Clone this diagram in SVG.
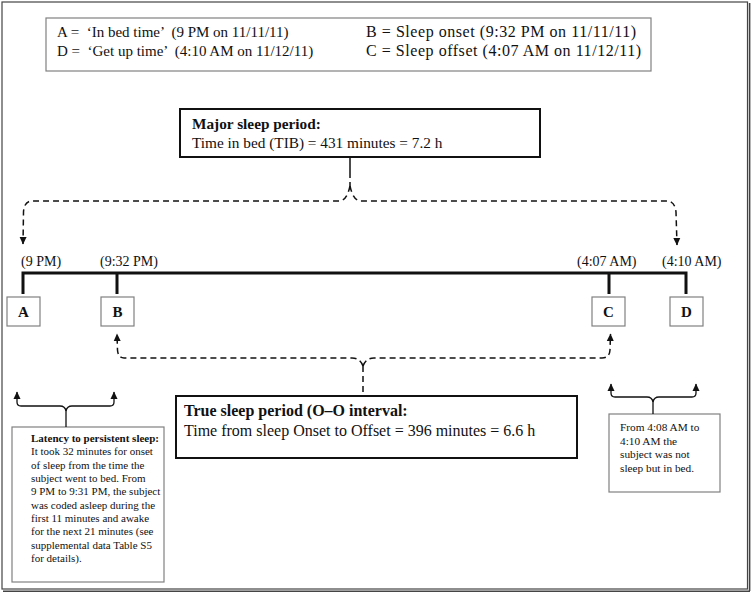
<svg xmlns="http://www.w3.org/2000/svg" width="752" height="593" viewBox="0 0 752 593">
<style>
text{font-family:"Liberation Serif","Times New Roman",serif;fill:#111;}
.lg{font-size:15px;white-space:pre;}
.lg2{font-size:16px;white-space:pre;}
.hd{font-size:15.3px;}
.hb{font-size:15.3px;font-weight:bold;}
.tb{font-size:16px;}
.tbb{font-size:16px;font-weight:bold;}
.tm{font-size:14px;}
.lt{font-size:15px;font-weight:bold;}
.sm{font-size:11px;}
.smb{font-size:11px;font-weight:bold;}
.rb{font-size:11.3px;}
.gbox{fill:#fff;stroke:#808080;stroke-width:1.2;}
.kbox{fill:#fff;stroke:#111;stroke-width:2;}
.tick{stroke:#111;stroke-width:3;fill:none;}
.dash{stroke:#111;stroke-width:1.5;fill:none;stroke-dasharray:6 4;}
.solid{stroke:#111;stroke-width:1.3;fill:none;}
</style>
<defs>
<marker id="ah" markerUnits="userSpaceOnUse" markerWidth="8" markerHeight="8" viewBox="0 0 8 8" refX="7" refY="4" orient="auto">
<path d="M0,0.5 L7.5,4 L0,7.5 Z" fill="#111"/>
</marker>
</defs>
<rect width="752" height="593" fill="#fff"/>
<rect x="2" y="2" width="745.5" height="587" fill="none" stroke="#444" stroke-width="1.2"/>
<path d="M749.6 3 L749.6 591 M3 591.2 L750 591.2" stroke="#444" stroke-width="1.6" fill="none"/>

<g id="legend">
<rect class="gbox" x="46" y="18" width="605" height="53"/>
<text class="lg" x="57" y="37">A =  ‘In bed time’  (9 PM on 11/11/11)</text>
<text class="lg" x="57" y="56">D =  ‘Get up time’  (4:10 AM on 11/12/11)</text>
<text class="lg2" x="366" y="37" textLength="270" lengthAdjust="spacing">B = Sleep onset (9:32 PM on 11/11/11)</text>
<text class="lg2" x="366" y="56" textLength="275" lengthAdjust="spacing">C = Sleep offset (4:07 AM on 11/12/11)</text>
</g>

<g id="major">
<rect class="kbox" x="180" y="109" width="360" height="48" stroke-width="1.8"/>
<text class="hb" x="192" y="129">Major sleep period:</text>
<text class="hd" x="192" y="148">Time in bed (TIB) = 431 minutes = 7.2 h</text>
</g>

<g id="timeline">
<path class="tick" d="M23 294 L23 273 L686 273 L686 294 M117 273 L117 294 M609 273 L609 294"/>
<text class="tm" x="21" y="266">(9 PM)</text>
<text class="tm" x="100" y="266">(9:32 PM)</text>
<text class="tm" x="577" y="266">(4:07 AM)</text>
<text class="tm" x="662" y="266">(4:10 AM)</text>
</g>

<g id="nodeA"><rect class="gbox" x="7" y="297" width="33" height="29"/><text class="lt" x="23.5" y="317" text-anchor="middle">A</text></g>
<g id="nodeB"><rect class="gbox" x="101" y="297" width="33" height="29"/><text class="lt" x="117.5" y="317" text-anchor="middle">B</text></g>
<g id="nodeC"><rect class="gbox" x="592" y="297" width="33" height="29"/><text class="lt" x="608.5" y="317" text-anchor="middle">C</text></g>
<g id="nodeD"><rect class="gbox" x="670" y="297" width="33" height="29"/><text class="lt" x="686.5" y="317" text-anchor="middle">D</text></g>

<g id="truesleep">
<rect class="kbox" x="176" y="396" width="401" height="62"/>
<text class="tbb" x="184" y="416">True sleep period (O–O interval:</text>
<text class="tb" x="184" y="436">Time from sleep Onset to Offset = 396 minutes = 6.6 h</text>
</g>

<g id="latency">
<rect class="gbox" x="12" y="427" width="152" height="155"/>
<text class="smb" x="31" y="442">Latency to persistent sleep:</text>
<text class="sm" x="31" y="455.3">It took 32 minutes for onset</text>
<text class="sm" x="31" y="468.6">of sleep from the time the</text>
<text class="sm" x="31" y="482">subject went to bed. From</text>
<text class="sm" x="31" y="495.3">9 PM to 9:31 PM, the subject</text>
<text class="sm" x="31" y="508.6">was coded asleep during the</text>
<text class="sm" x="31" y="522">first 11 minutes and awake</text>
<text class="sm" x="31" y="535.3">for the next 21 minutes (see</text>
<text class="sm" x="31" y="548.6">supplemental data Table S5</text>
<text class="sm" x="31" y="562">for details).</text>
</g>

<g id="inbed">
<rect class="gbox" x="609" y="414" width="111" height="78"/>
<text class="rb" x="620" y="431">From 4:08 AM to</text>
<text class="rb" x="620" y="444.5">4:10 AM the</text>
<text class="rb" x="620" y="458">subject was not</text>
<text class="rb" x="620" y="471.5">sleep but in bed.</text>
</g>

<g id="connectors">
<path d="M350 157 L350 172" stroke="#111" stroke-width="1.5" fill="none"/>
<path class="dash" d="M350 172 L350 186"/>
<path class="dash" d="M350 186 Q347 200 340 201 L31 201 Q24 202 23.5 212 L23 244" marker-end="url(#ah)"/>
<path class="dash" d="M350 186 Q353 200 360 201 L668 201 Q675 202 676 212 L677 245" marker-end="url(#ah)"/>
<path class="dash" d="M363 392 L363 366"/>
<path class="dash" d="M363 366 Q360 358 352 358 L124 358 Q118 358 117.5 350 L117 334" marker-end="url(#ah)"/>
<path class="dash" d="M363 366 Q366 358 374 358 L602 358 Q609.5 358 610 350 L610.5 334" marker-end="url(#ah)"/>
<path class="solid" d="M66 427 L66 411 Q65 406 60 406 L21 406 Q17 406 17 402 L17 392" marker-end="url(#ah)"/>
<path class="solid" d="M66 411 Q67 406 72 406 L110 406 Q114 406 114 402 L114 392" marker-end="url(#ah)"/>
<path class="solid" d="M653 414 L653 402 Q652 397 647 397 L615 397 Q611 397 611 393 L611 384" marker-end="url(#ah)"/>
<path class="solid" d="M653 402 Q654 397 659 397 L692 397 Q696 397 696 393 L696 384" marker-end="url(#ah)"/>
</g>
</svg>
